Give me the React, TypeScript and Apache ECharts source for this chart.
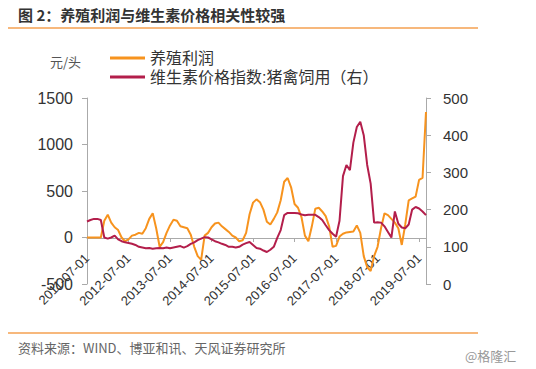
import React, { useEffect, useRef } from "react";
import * as echarts from "echarts";

// Monthly categories 2011-07 .. 2019-09
const startYear = 2011;
const startMonth = 7;
const monthCount = 99;
const categories: string[] = [];
for (let i = 0; i < monthCount; i++) {
  const m = startMonth - 1 + i;
  const y = startYear + Math.floor(m / 12);
  const mm = (m % 12) + 1;
  categories.push(`${y}-${mm < 10 ? "0" + mm : mm}-01`);
}

// 养殖利润 (元/头, left axis)
const profit: number[] = [
  0, 0, 0, 0, 0, 180, 245, 160, 110, 80,
  0, -40, -20, 20, 30, 50, 40, 100, 200, 260,
  100, -100, -50, 50, 130, 190, 180, 120, 110, 100,
  30, -100, -200, -240, 20, 50, 110, 150, 160, 120,
  90, 60, 20, 0, -40, -30, 50, 250, 375, 410,
  380, 300, 170, 140, 200, 270, 400, 600, 640, 540,
  360, 320, 220, 20, -40, 120, 310, 320, 280, 230,
  120, -100, -90, 10, 40, 55, 60, 65, 130, 50,
  -200, -320, -360, -200, -100, 100, 260, 240, 200, 160,
  100, -80, 140, 400, 420, 440, 620, 640, 1350,
];

// 维生素价格指数:猪禽饲用 (right axis)
const vitamin: number[] = [
  168, 172, 175, 175, 172, 125, 122, 125, 130, 120,
  115, 112, 110, 108, 105, 100, 98, 96, 97, 95,
  96, 97, 96, 98, 96, 98, 100, 102, 98, 102,
  108, 112, 118, 122, 126, 125, 120, 115, 112, 108,
  105, 100, 100, 98, 100, 106, 110, 113, 105, 97,
  95, 90, 86, 92, 100, 124, 145, 185, 191, 191,
  191, 190, 187, 185, 186, 186, 186, 180, 172, 158,
  145, 135, 127, 170, 290, 320, 306, 380, 422, 436,
  400, 320, 270, 165, 166, 165, 155, 140, 125, 195,
  162, 152, 150, 160, 200, 207, 203, 195, 185,
];

const leftTicks = { min: -500, max: 1500, interval: 500 };
const rightTicks = { min: 0, max: 500, interval: 100 };

const seriesNames = ["养殖利润", "维生素价格指数:猪禽饲用（右）"];
const titleText = "图 2：养殖利润与维生素价格相关性较强";
const sourceText = "资料来源：WIND、博亚和讯、天风证券研究所";
const unitText = "元/头";
const watermark = "@格隆汇";

const ORANGE = "#F7931E";
const RED = "#B31E4B";
const FONT = "'Liberation Sans', 'Noto Sans CJK SC', sans-serif";
const CJK = "'Noto Sans CJK SC', 'Liberation Sans', sans-serif";

export default function App() {
  const ref = useRef<HTMLDivElement>(null);
  useEffect(() => {
    if (!ref.current) return;
    const chart = echarts.init(ref.current, undefined, { renderer: "svg" });
    const isJuly = (_i: number, v: string) => v.slice(5, 7) === "07";
    const plain = (v: number) => String(v);
    chart.setOption({
      animation: false,
      backgroundColor: "#ffffff",
      textStyle: { fontFamily: FONT },
      grid: { left: 87, right: 110, top: 98, bottom: 85, containLabel: false },
      legend: {
        orient: "vertical",
        left: 105,
        top: 45,
        itemWidth: 35,
        itemHeight: 3,
        itemGap: 3,
        icon: "rect",
        textStyle: { fontSize: 16, color: "#333", fontFamily: FONT, lineHeight: 16 },
        data: seriesNames,
      },
      xAxis: {
        type: "category",
        data: categories,
        boundaryGap: false,
        offset: -46,
        axisLine: { onZero: false, lineStyle: { color: "#aaa", width: 1 } },
        axisTick: { interval: isJuly, length: 4, lineStyle: { color: "#aaa" } },
        axisLabel: {
          interval: isJuly,
          rotate: 45,
          fontSize: 13,
          color: "#333",
          margin: 18,
        },
        splitLine: { show: false },
      },
      yAxis: [
        {
          type: "value",
          ...leftTicks,
          axisLine: { show: true, lineStyle: { color: "#aaa" } },
          axisTick: { show: true, length: 5, lineStyle: { color: "#aaa" } },
          axisLabel: { fontSize: 16, color: "#333", margin: 14, formatter: plain },
          splitLine: { show: false },
        },
        {
          type: "value",
          ...rightTicks,
          position: "right",
          axisLine: { show: true, lineStyle: { color: "#aaa" } },
          axisTick: { show: true, length: 5, lineStyle: { color: "#aaa" } },
          axisLabel: { fontSize: 15, color: "#333", margin: 17, formatter: plain },
          splitLine: { show: false },
        },
      ],
      series: [
        {
          name: seriesNames[0],
          type: "line",
          data: profit,
          yAxisIndex: 0,
          showSymbol: false,
          symbol: "none",
          lineStyle: { color: ORANGE, width: 2 },
          itemStyle: { color: ORANGE },
          z: 2,
        },
        {
          name: seriesNames[1],
          type: "line",
          data: vitamin,
          yAxisIndex: 1,
          showSymbol: false,
          symbol: "none",
          lineStyle: { color: RED, width: 2 },
          itemStyle: { color: RED },
          z: 3,
        },
      ],
      graphic: [
        {
          type: "text",
          left: 18,
          top: 7,
          style: { text: titleText, fontSize: 15, fontWeight: "bold", fill: "#333", fontFamily: CJK },
        },
        {
          type: "line",
          shape: { x1: 8, y1: 28, x2: 478, y2: 28 },
          style: { stroke: "#F5A050", lineWidth: 1.5 },
        },
        {
          type: "text",
          left: 50,
          top: 55,
          style: { text: unitText, fontSize: 13, fill: "#555", fontFamily: CJK },
        },
        {
          type: "line",
          shape: { x1: 8, y1: 333, x2: 478, y2: 333 },
          style: { stroke: "#F5A050", lineWidth: 1.5 },
        },
        {
          type: "text",
          left: 18,
          top: 341,
          style: { text: sourceText, fontSize: 13, fill: "#666", fontFamily: CJK },
        },
        {
          type: "text",
          left: 465,
          top: 349,
          style: { text: watermark, fontSize: 13, fill: "#999", fontFamily: CJK },
        },
      ],
    });
    return () => chart.dispose();
  }, []);
  return (
    <div
      ref={ref}
      style={{ position: "fixed", left: 0, top: 0, width: 536, height: 369, background: "#fff" }}
    />
  );
}
